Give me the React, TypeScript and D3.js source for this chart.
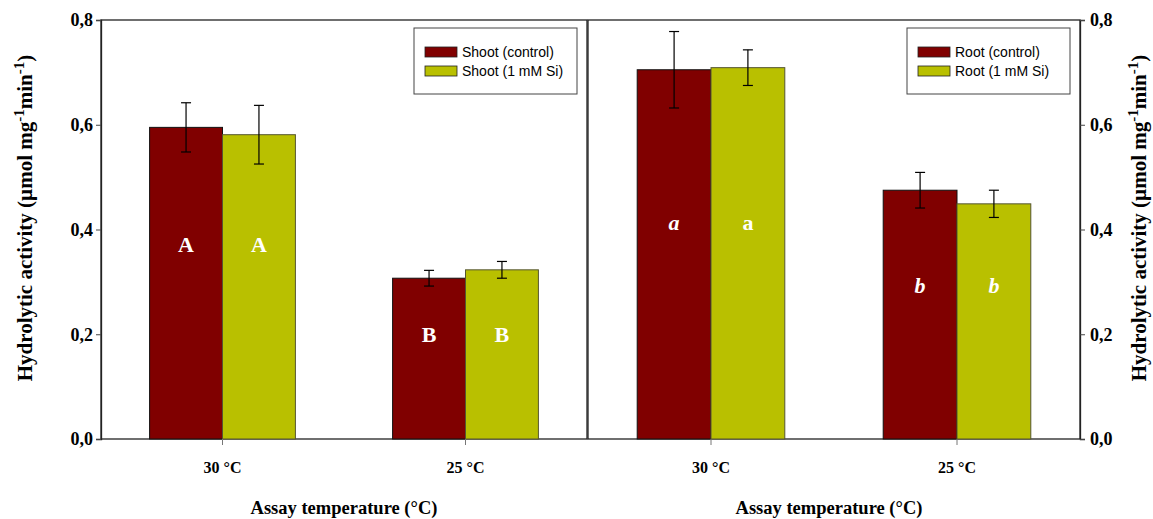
import React, { useEffect, useRef } from "react";
import * as d3 from "d3";

const temps = ["30 °C", "25 °C"];
const yTicks = [0, 0.2, 0.4, 0.6, 0.8];

const shootControl = [0.595, 0.307];
const shootControlErr = [0.047, 0.015];
const shootSi = [0.581, 0.323];
const shootSiErr = [0.056, 0.016];
const shootLetters = [["A", "A"], ["B", "B"]];
const shootLetterY = [0.372, 0.2];

const rootControl = [0.705, 0.475];
const rootControlErr = [0.073, 0.034];
const rootSi = [0.709, 0.449];
const rootSiErr = [0.034, 0.026];
const rootLetters = [["a", "a"], ["b", "b"]];
const rootLetterItalic = [[true, false], [true, true]];
const rootLetterY = [0.414, 0.294];

const RED = "#800000";
const GREEN = "#b9c000";
const SERIF = "'Liberation Serif', 'Times New Roman', serif";
const SANS = "'Liberation Sans', Arial, sans-serif";

const App = () => {
  const svgRef = useRef<SVGSVGElement>(null);

  useEffect(() => {
    const width = 1153;
    const height = 519;
    const top = 20;
    const bottom = 439;

    const svg = d3.select(svgRef.current);
    svg.selectAll("*").remove();
    svg.attr("width", width).attr("height", height);

    const y = d3.scaleLinear().domain([0, 0.8]).range([bottom, top]);

    const drawPanel = (opts: {
      x0: number;
      x1: number;
      side: "left" | "right";
      control: number[];
      controlErr: number[];
      si: number[];
      siErr: number[];
      letters: string[][];
      italic: boolean[][];
      letterY: number[];
      names: string[];
    }) => {
      const g = svg.append("g");
      const x = d3.scalePoint().domain(temps).range([opts.x0, opts.x1]).padding(0.5);
      const step = x.step();
      const barW = step * 0.3;

      // frame
      g.append("rect")
        .attr("x", opts.x0)
        .attr("y", top)
        .attr("width", opts.x1 - opts.x0)
        .attr("height", bottom - top)
        .attr("fill", "none")
        .attr("stroke", "#222")
        .attr("stroke-width", 1.3);

      // bars
      const series = [
        { vals: opts.control, errs: opts.controlErr, color: RED, off: -barW, stroke: "#111" },
        { vals: opts.si, errs: opts.siErr, color: GREEN, off: 0, stroke: "#555530" },
      ];
      series.forEach((s, si) => {
        temps.forEach((t, i) => {
          const bx = (x(t) as number) + s.off;
          const cx = bx + barW / 2;
          g.append("rect")
            .attr("x", bx)
            .attr("y", y(s.vals[i]))
            .attr("width", barW)
            .attr("height", bottom - y(s.vals[i]))
            .attr("fill", s.color)
            .attr("stroke", s.stroke)
            .attr("stroke-width", 1);
          const eTop = y(s.vals[i] + s.errs[i]);
          const eBot = y(s.vals[i] - s.errs[i]);
          g.append("line")
            .attr("x1", cx).attr("x2", cx)
            .attr("y1", eTop).attr("y2", eBot)
            .attr("stroke", "#000").attr("stroke-width", 1.2);
          [eTop, eBot].forEach((ey) => {
            g.append("line")
              .attr("x1", cx - 5).attr("x2", cx + 5)
              .attr("y1", ey).attr("y2", ey)
              .attr("stroke", "#000").attr("stroke-width", 1.2);
          });
          g.append("text")
            .attr("x", cx)
            .attr("y", y(opts.letterY[i]))
            .attr("dy", "0.35em")
            .attr("text-anchor", "middle")
            .attr("fill", "#fff")
            .style("font-family", SERIF)
            .style("font-weight", "bold")
            .style("font-style", opts.italic[i][si] ? "italic" : "normal")
            .style("font-size", "22px")
            .text(opts.letters[i][si]);
        });
      });

      // x axis ticks + labels
      temps.forEach((t) => {
        g.append("line")
          .attr("x1", x(t) as number).attr("x2", x(t) as number)
          .attr("y1", bottom).attr("y2", bottom + 6)
          .attr("stroke", "#777").attr("stroke-width", 1);
        g.append("text")
          .attr("x", x(t) as number)
          .attr("y", bottom + 34)
          .attr("text-anchor", "middle")
          .style("font-family", SERIF)
          .style("font-weight", "bold")
          .style("font-size", "16px")
          .text(t);
      });
      g.append("text")
        .attr("x", (opts.x0 + opts.x1) / 2 + (opts.side === "left" ? 0 : -5))
        .attr("y", 514)
        .attr("text-anchor", "middle")
        .style("font-family", SERIF)
        .style("font-weight", "bold")
        .style("font-size", "18.5px")
        .text("Assay temperature (°C)");

      // y axis
      const axisX = opts.side === "left" ? opts.x0 : opts.x1;
      const axis = opts.side === "left" ? d3.axisLeft(y) : d3.axisRight(y);
      g.append("g")
        .attr("transform", `translate(${axisX},0)`)
        .call(
          axis
            .tickValues(yTicks)
            .tickSize(5)
            .tickPadding(opts.side === "left" ? 3 : 5)
            .tickFormat((d) => d3.format(".1f")(d as number).replace(".", ","))
        )
        .call((a) => a.select(".domain").attr("stroke", "#222").attr("stroke-width", 1.3))
        .call((a) => a.selectAll("line").attr("stroke", "#444"))
        .call((a) =>
          a.selectAll("text")
            .style("font-family", SERIF)
            .style("font-weight", "bold")
            .style("font-size", "18px")
            .attr("fill", "#000")
        );

      // y title
      const tx = opts.side === "left" ? 25 : 1139;
      const title = g.append("text")
        .attr("transform", `translate(${tx},218) rotate(-90)`)
        .attr("text-anchor", "middle")
        .attr("dy", "0.35em")
        .style("font-family", SERIF)
        .style("font-weight", "bold")
        .style("font-size", "21px");
      title.append("tspan").text("Hydrolytic activity (µmol mg");
      title.append("tspan").attr("dy", -8).style("font-size", "15px").text("-1");
      title.append("tspan").attr("dy", 8).text("min");
      title.append("tspan").attr("dy", -8).style("font-size", "15px").text("-1");
      title.append("tspan").attr("dy", 8).text(")");

      // legend
      const lx = opts.x1 - 173;
      const leg = g.append("g").attr("transform", `translate(${lx},28)`);
      leg.append("rect")
        .attr("x", 0).attr("y", 0)
        .attr("width", 163).attr("height", 66)
        .attr("fill", "#fff")
        .attr("stroke", "#444")
        .attr("stroke-width", 1);
      [RED, GREEN].forEach((c, i) => {
        leg.append("rect")
          .attr("x", 11).attr("y", 19 + i * 19)
          .attr("width", 32).attr("height", 10)
          .attr("fill", c)
          .attr("stroke", "#222")
          .attr("stroke-width", 0.8);
        leg.append("text")
          .attr("x", 48).attr("y", 24 + i * 19)
          .attr("dy", "0.35em")
          .style("font-family", SANS)
          .style("font-size", "14px")
          .text(opts.names[i]);
      });
    };

    drawPanel({
      x0: 101, x1: 587, side: "left",
      control: shootControl, controlErr: shootControlErr,
      si: shootSi, siErr: shootSiErr,
      letters: shootLetters, italic: [[false, false], [false, false]],
      letterY: shootLetterY,
      names: ["Shoot (control)", "Shoot (1 mM Si)"],
    });
    drawPanel({
      x0: 588, x1: 1080, side: "right",
      control: rootControl, controlErr: rootControlErr,
      si: rootSi, siErr: rootSiErr,
      letters: rootLetters, italic: rootLetterItalic,
      letterY: rootLetterY,
      names: ["Root (control)", "Root (1 mM Si)"],
    });
  }, []);

  return (
    <div style={{ position: "absolute", left: 0, top: 0, background: "#fff" }}>
      <svg ref={svgRef}></svg>
    </div>
  );
};

export default App;
